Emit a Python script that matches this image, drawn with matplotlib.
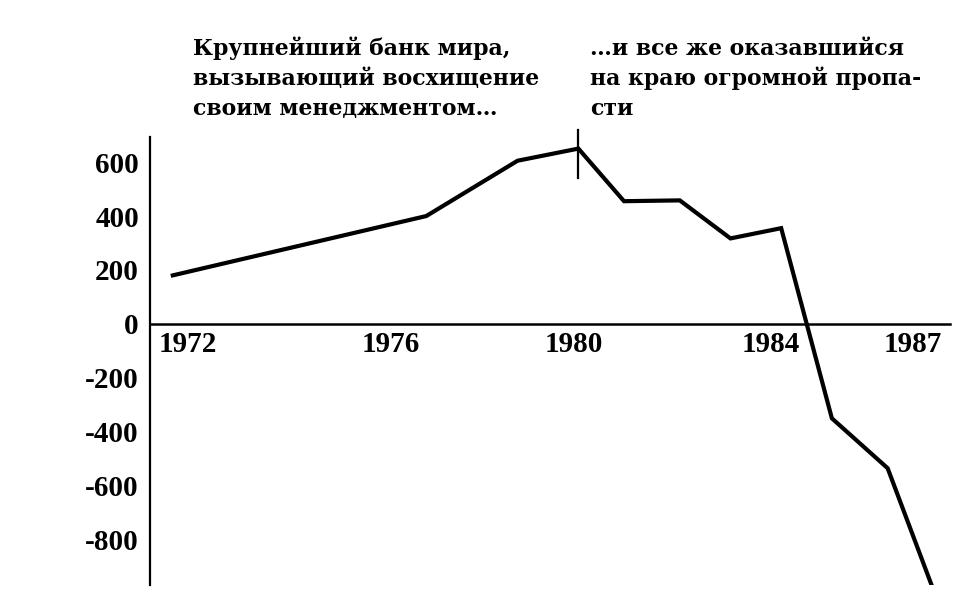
import matplotlib
matplotlib.use("Agg")
import matplotlib.pyplot as plt

# данные
years = [1972, 1977, 1978.8, 1980, 1980.9, 1982, 1983, 1984, 1985, 1986.1, 1987]
values = [180, 400, 605, 650, 455, 458, 317, 355, -350, -535, -985]

xtick_pos = [1972.3, 1976.3, 1979.9, 1983.8, 1986.6]
xtick_labels = ["1972", "1976", "1980", "1984", "1987"]
ytick_vals = [600, 400, 200, 0, -200, -400, -600, -800]
ytick_labels = ["600", "400", "200", "0", "-200", "-400", "-600", "-800"]

marker_year = 1980
marker_span = (540, 720)

left_text = ["Крупнейший банк мира,",
             "вызывающий восхищение",
             "своим менеджментом\u2026"]
right_text = ["\u2026и все же оказавшийся",
              "на краю огромной пропа-",
              "сти"]

tick_font = dict(family="Liberation Serif", weight="bold", size=21)
note_font = dict(family="DejaVu Serif", weight="bold", size=15.8)

fig = plt.figure(figsize=(9.74, 6.15), dpi=100)
ax = fig.add_axes([150 / 974, 1 - 585 / 615, 800 / 974, 448 / 615])

ax.plot(years, values, color="black", lw=3.0, solid_joinstyle="miter")
ax.plot([marker_year, marker_year], marker_span, color="black", lw=1.6, clip_on=False)

ax.set_xlim(1971.55, 1987.33)
ax.set_ylim(-968, 693)

ax.spines["top"].set_visible(False)
ax.spines["right"].set_visible(False)
ax.spines["bottom"].set_position(("data", 0))
ax.spines["bottom"].set_linewidth(1.8)
ax.spines["left"].set_linewidth(1.6)

ax.set_xticks(xtick_pos)
ax.set_xticklabels(xtick_labels, fontdict=tick_font)
ax.set_yticks(ytick_vals)
ax.set_yticklabels(ytick_labels, fontdict=tick_font)
ax.tick_params(axis="both", length=0)
ax.tick_params(axis="x", pad=5)
ax.tick_params(axis="y", pad=8)

# подписи над графиком
for i, line in enumerate(left_text):
    fig.text(193 / 974, 1 - (55 + 30 * i) / 615, line, ha="left", va="baseline", **note_font)
for i, line in enumerate(right_text):
    fig.text(590 / 974, 1 - (55 + 30 * i) / 615, line, ha="left", va="baseline", **note_font)

fig.savefig("out.png", dpi=100, facecolor="white")
